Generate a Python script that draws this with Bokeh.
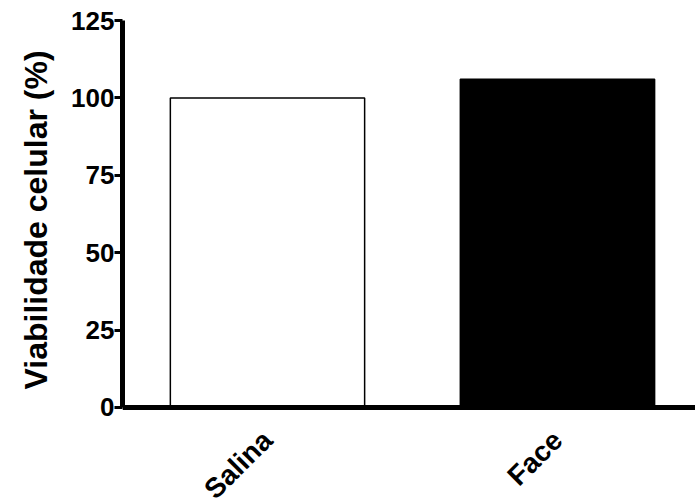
from bokeh.plotting import figure
from bokeh.models import Range1d, FixedTicker, ColumnDataSource, Title
from bokeh.embed import file_html
from bokeh.resources import INLINE

categories = ["Salina", "Face"]
values = [100, 106]
fill_colors = ["white", "black"]
y_ticks = [0, 25, 50, 75, 100, 125]

positions = [i + 0.5 for i in range(len(categories))]
src = ColumnDataSource(dict(x=positions, top=values, color=fill_colors, name=categories))

p = figure(width=695, height=498, output_backend="svg", toolbar_location=None,
           x_range=Range1d(0, 1.976), y_range=Range1d(-29.4, 125),
           min_border_left=122, min_border_right=0, min_border_top=20, min_border_bottom=0)

p.vbar(x="x", top="top", bottom=0, width=0.67, fill_color="color",
       line_color="black", line_width=1.5, source=src)

FONT = "Liberation Sans"
p.outline_line_color = None
p.xgrid.visible = False
p.ygrid.visible = False

ya = p.yaxis[0]
ya.ticker = FixedTicker(ticks=y_ticks)
ya.bounds = (0, 125)
ya.axis_line_width = 5
ya.major_tick_line_width = 3
ya.major_tick_in = 0
ya.major_tick_out = 8
ya.minor_tick_line_color = None
ya.major_label_standoff = 0
ya.major_label_text_font = FONT
ya.major_label_text_font_style = "bold"
ya.major_label_text_font_size = "26px"
ya.major_label_text_color = "black"

ytitle = Title(text="Viabilidade celular (%)", align="left", vertical_align="top",
               offset=109, standoff=25,
               text_font=FONT, text_font_style="bold", text_font_size="32px",
               text_color="black")
p.add_layout(ytitle, "left")

xa = p.xaxis[0]
xa.fixed_location = 0
xa.ticker = FixedTicker(ticks=positions)
xa.major_label_overrides = {pos: name for pos, name in zip(positions, categories)}
xa.axis_line_width = 5
xa.major_tick_line_color = None
xa.minor_tick_line_color = None
xa.major_label_orientation = 0.785398
xa.major_label_standoff = 22
xa.major_label_text_font = FONT
xa.major_label_text_font_style = "bold"
xa.major_label_text_font_size = "28px"
xa.major_label_text_color = "black"

open("out.html", "w").write(file_html(p, INLINE))
